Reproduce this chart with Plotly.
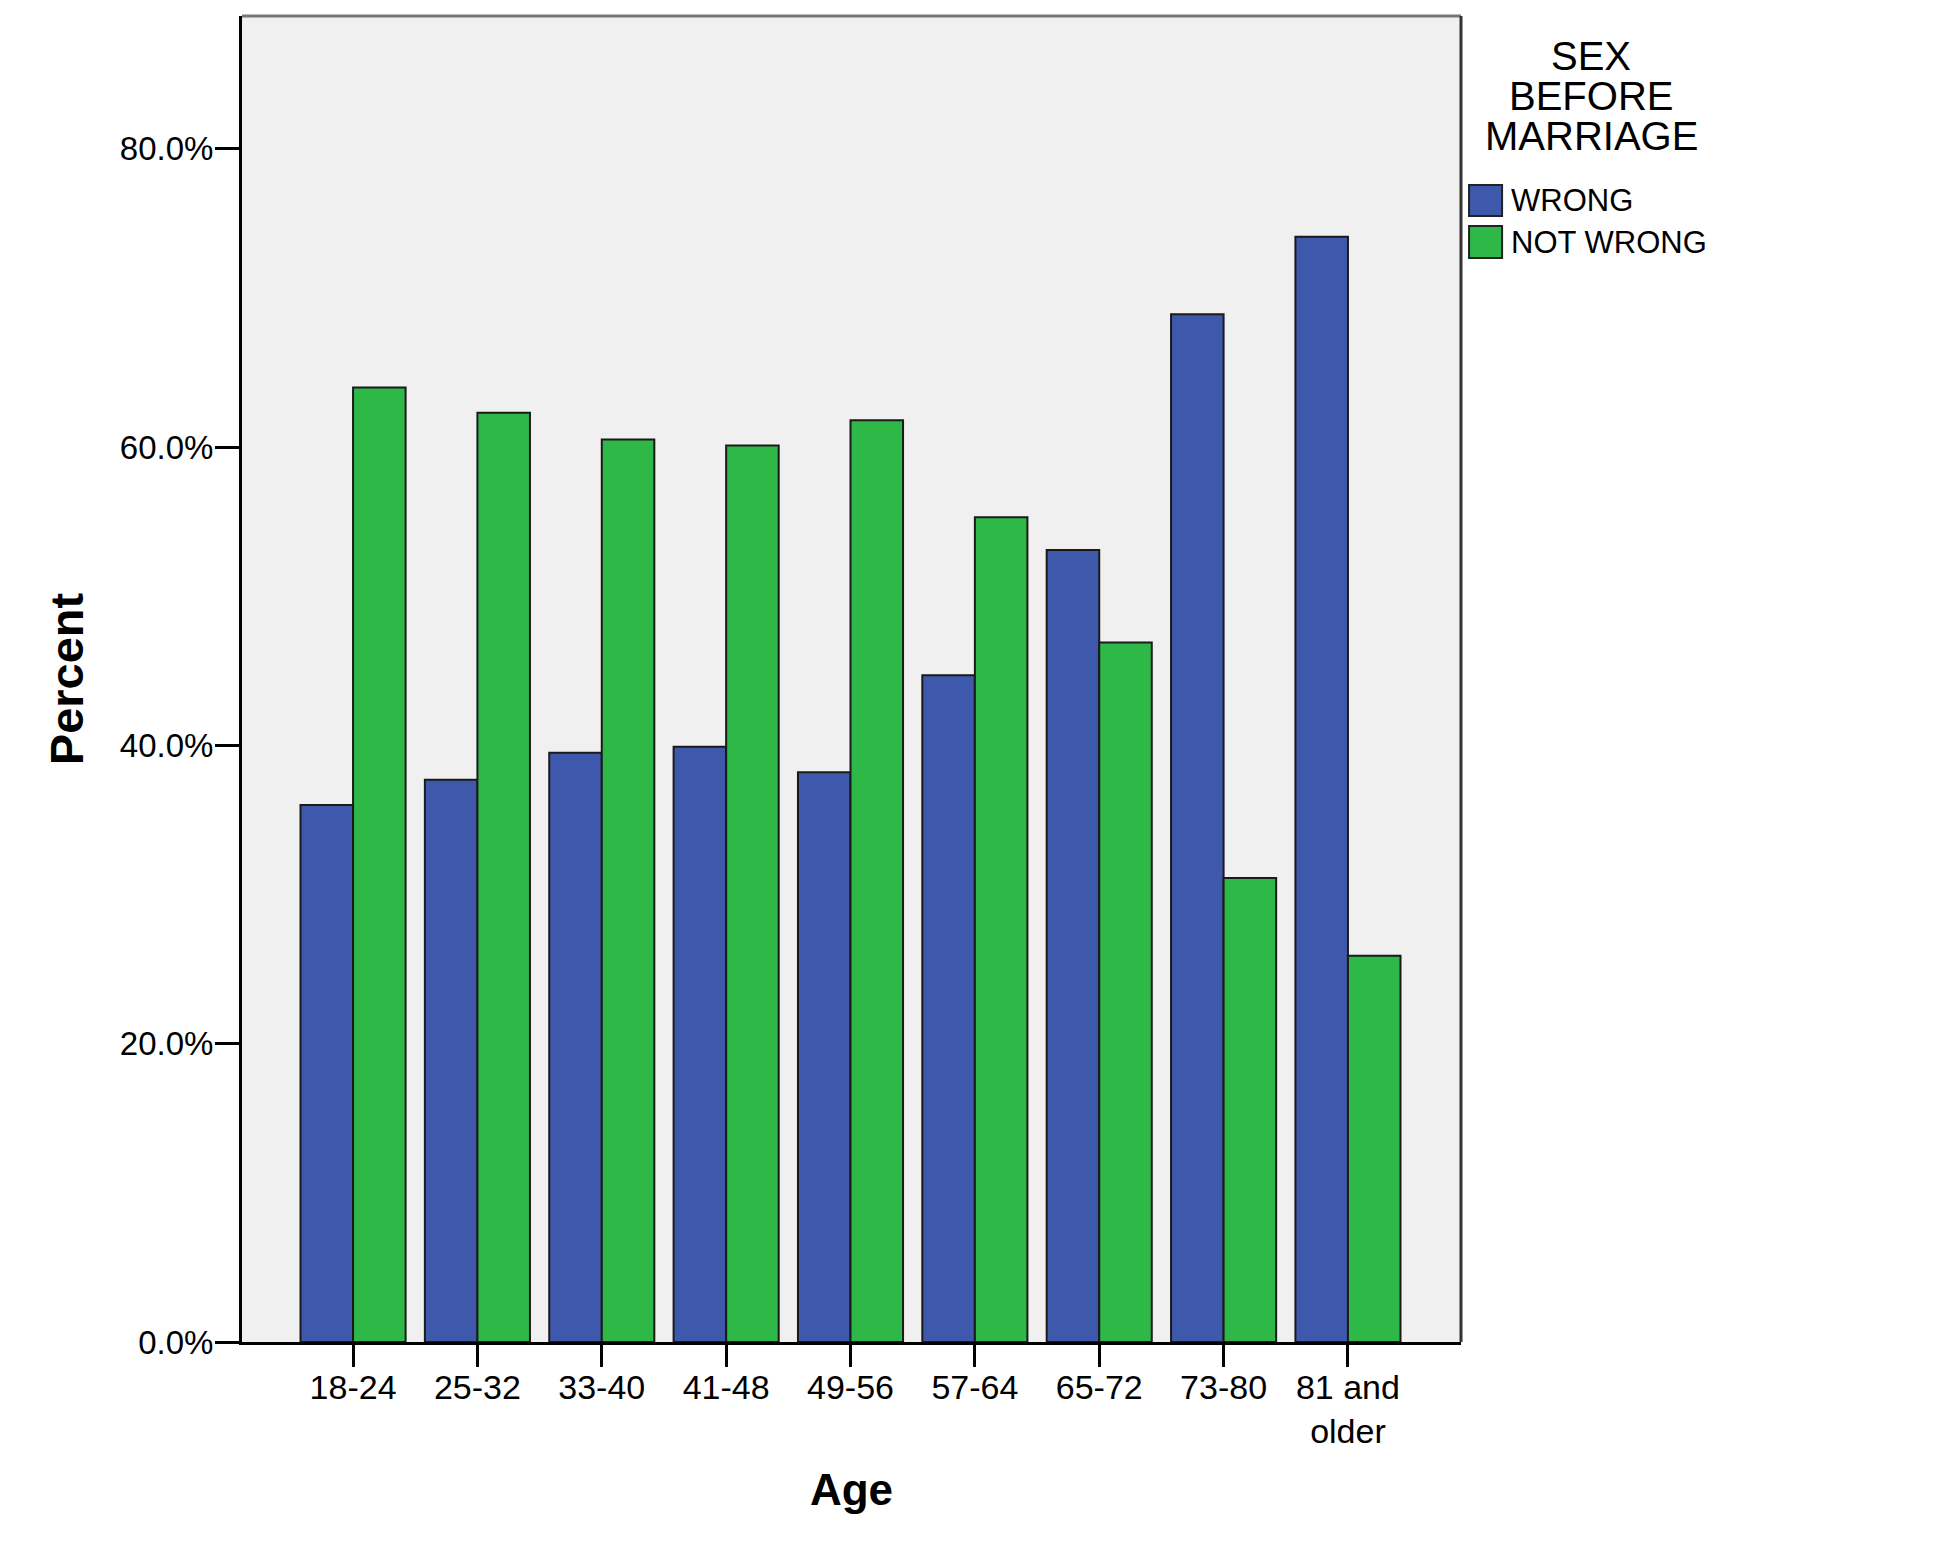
import plotly.graph_objects as go

age_groups = ["18-24", "25-32", "33-40", "41-48", "49-56", "57-64", "65-72", "73-80", "81 and<br>older"]
wrong = [36.0, 37.7, 39.5, 39.9, 38.2, 44.7, 53.1, 68.9, 74.1]
not_wrong = [64.0, 62.3, 60.5, 60.1, 61.8, 55.3, 46.9, 31.1, 25.9]
y_ticks = [0, 20, 40, 60, 80]
y_tick_labels = ["0.0%", "20.0%", "40.0%", "60.0%", "80.0%"]
legend_title_lines = ["SEX", "BEFORE", "MARRIAGE"]
series_names = ["WRONG", "NOT WRONG"]

BLUE = "#3E58AC"
GREEN = "#2EB848"
FONT = "Liberation Sans, Arial, sans-serif"

fig = go.Figure()
fig.add_trace(go.Bar(x=age_groups, y=wrong, name=series_names[0],
                     marker=dict(color=BLUE, line=dict(color="#1a1a1a", width=2)),
                     showlegend=False))
fig.add_trace(go.Bar(x=age_groups, y=not_wrong, name=series_names[1],
                     marker=dict(color=GREEN, line=dict(color="#1a1a1a", width=2)),
                     showlegend=False))

fig.update_layout(
    width=1950, height=1560,
    margin=dict(l=234, r=497, t=8, b=226),
    paper_bgcolor="white",
    plot_bgcolor="#F0F0F0",
    barmode="group",
    bargap=0.155,
    bargroupgap=0,
    font=dict(family=FONT, color="black", size=32),
    xaxis=dict(
        type="category",
        range=[-0.893, 8.909],
        showline=True, linecolor="black", linewidth=3,
        ticks="outside", ticklen=22, tickwidth=3, tickcolor="black",
        tickfont=dict(size=34, family=FONT),
        ticklabelstandoff=-9,
        showgrid=False, zeroline=False,
        title=dict(text="<b>Age</b>", font=dict(size=44, family=FONT), standoff=26),
    ),
    yaxis=dict(
        range=[0, 88.9],
        tickvals=y_ticks, ticktext=y_tick_labels,
        showline=True, linecolor="black", linewidth=3,
        ticks="outside", ticklen=24, tickwidth=3, tickcolor="black",
        tickfont=dict(size=33, family=FONT),
        ticklabelstandoff=-5,
        showgrid=False, zeroline=False,
        title=dict(text="<b>Percent</b>", font=dict(size=47, family=FONT), standoff=22),
    ),
)

# plot frame: top (gray) and right (dark)
fig.add_shape(type="line", xref="paper", yref="paper", x0=0, x1=1, y0=1, y1=1,
              line=dict(color="#777777", width=3))
fig.add_shape(type="line", xref="paper", yref="paper", x0=1, x1=1, y0=0, y1=1,
              line=dict(color="#333333", width=3))

# legend title
title_y = [0.9695, 0.9394, 0.9092]
for txt, yy in zip(legend_title_lines, title_y):
    fig.add_annotation(text=txt, xref="paper", yref="paper", x=1.1067, y=yy,
                       xanchor="center", yanchor="middle", showarrow=False,
                       font=dict(size=40, family=FONT, color="black"))

# legend entries
sw = [(0.8725, 0.8492), (0.8416, 0.8175)]
for (y1, y0), col, name in zip(sw, [BLUE, GREEN], series_names):
    fig.add_shape(type="rect", xref="paper", yref="paper", x0=1.0066, x1=1.0337,
                  y0=y0, y1=y1, fillcolor=col, line=dict(color="#222222", width=2))
    fig.add_annotation(text=name, xref="paper", yref="paper", x=1.0394, y=(y0 + y1) / 2,
                       xanchor="left", yanchor="middle", showarrow=False,
                       font=dict(size=31, family=FONT, color="black"))

fig.write_html("out.html")
